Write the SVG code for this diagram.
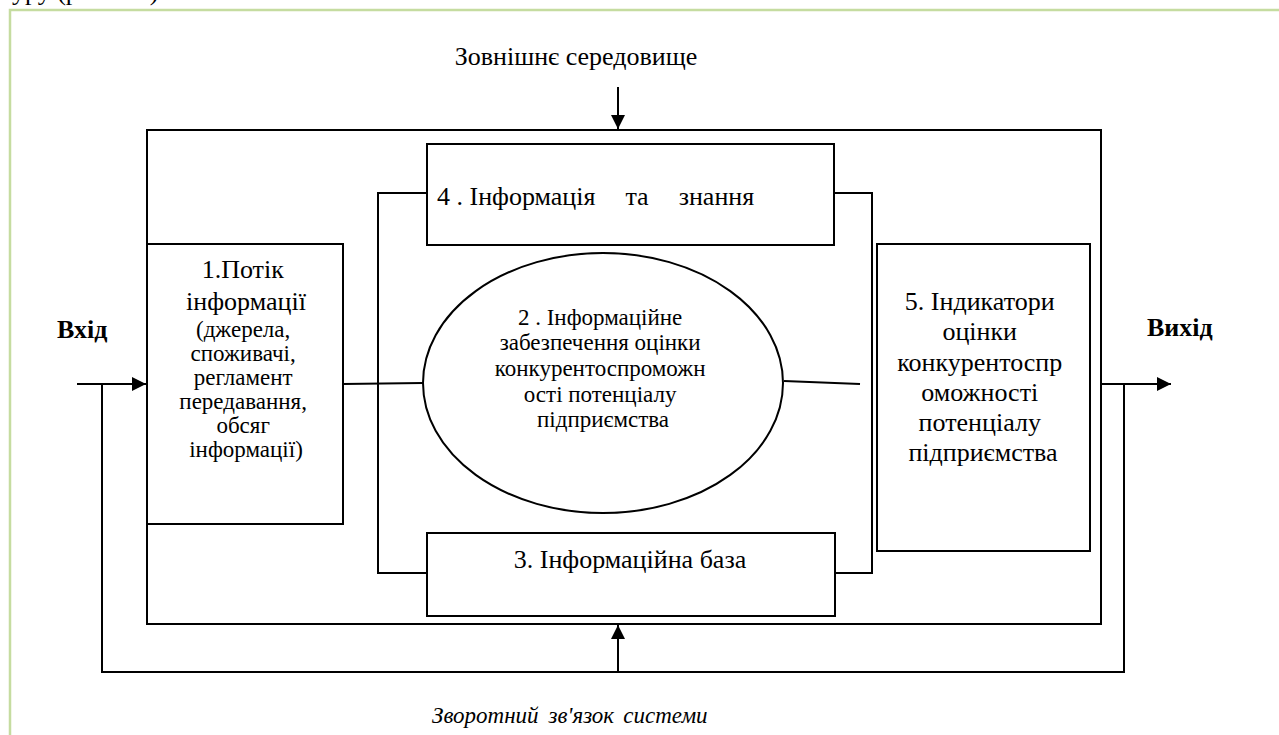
<svg xmlns="http://www.w3.org/2000/svg" width="1279" height="735" viewBox="0 0 1279 735">
  <defs>
    <marker id="ah" viewBox="0 0 10 10" refX="10" refY="5" markerWidth="16" markerHeight="14" markerUnits="userSpaceOnUse" orient="auto">
      <path d="M0,0 L10,5 L0,10 Z" fill="#000"/>
    </marker>
  </defs>
  <rect width="1279" height="735" fill="#fff"/>

  <text x="12" y="0" font-family="Times New Roman, Liberation Serif, serif" font-size="26">уру          (рис. 1.3)</text>

  <path d="M10,735 V10 H1279" fill="none" stroke="#c5dca0" stroke-width="2.5"/>

  <g id="environment">
    <text x="576" y="65" text-anchor="middle" font-family="Times New Roman, Liberation Serif, serif" font-size="26">Зовнішнє середовище</text>
  </g>

  <g id="system">
    <rect x="147" y="130" width="954" height="494" fill="none" stroke="#000" stroke-width="2"/>
  </g>

  <g id="connectors" fill="none" stroke="#000" stroke-width="2">
    <line x1="618" y1="87" x2="618" y2="129" marker-end="url(#ah)"/>
    <line x1="77" y1="384" x2="146" y2="384" marker-end="url(#ah)"/>
    <line x1="1101" y1="384" x2="1171" y2="384" marker-end="url(#ah)"/>
    <polyline points="1124,384 1124,672 102,672 102,384"/>
    <line x1="618" y1="672" x2="618" y2="625" marker-end="url(#ah)"/>
    <polyline points="427,193 378,193 378,573 427,573"/>
    <polyline points="834,193 872,193 872,573 835,573"/>
    <line x1="343" y1="384" x2="423" y2="383"/>
    <line x1="784" y1="381" x2="860" y2="384"/>
  </g>

  <g id="node1">
    <rect x="147" y="244" width="196" height="280" fill="#fff" stroke="#000" stroke-width="2"/>
    <text text-anchor="middle" font-family="Times New Roman, Liberation Serif, serif" font-size="26">
      <tspan x="246" y="278">1.Потік</tspan>
      <tspan x="246" y="310">інформації</tspan>
    </text>
    <text text-anchor="middle" font-family="Times New Roman, Liberation Serif, serif" font-size="23">
      <tspan x="246" y="337">(джерела,</tspan>
      <tspan x="246" y="361">споживачі,</tspan>
      <tspan x="246" y="385">регламент</tspan>
      <tspan x="246" y="409">передавання,</tspan>
      <tspan x="246" y="433">обсяг</tspan>
      <tspan x="246" y="457">інформації)</tspan>
    </text>
  </g>

  <g id="node4">
    <rect x="427" y="144" width="407" height="101" fill="#fff" stroke="#000" stroke-width="2"/>
    <text x="437" y="205" font-family="Times New Roman, Liberation Serif, serif" font-size="26">4 . Інформація<tspan dx="30">та</tspan><tspan dx="30">знання</tspan></text>
  </g>

  <g id="node2">
    <ellipse cx="603" cy="383" rx="180" ry="130" fill="#fff" stroke="#000" stroke-width="2"/>
    <text text-anchor="middle" font-family="Times New Roman, Liberation Serif, serif" font-size="23">
      <tspan x="603" y="325">2 . Інформаційне</tspan>
      <tspan x="603" y="350">забезпечення оцінки</tspan>
      <tspan x="603" y="376">конкурентоспроможн</tspan>
      <tspan x="603" y="402">ості потенціалу</tspan>
      <tspan x="603" y="427">підприємства</tspan>
    </text>
  </g>

  <g id="node3">
    <rect x="427" y="533" width="408" height="83" fill="#fff" stroke="#000" stroke-width="2"/>
    <text x="630" y="568" text-anchor="middle" font-family="Times New Roman, Liberation Serif, serif" font-size="26">3. Інформаційна база</text>
  </g>

  <g id="node5">
    <rect x="877" y="244" width="213" height="307" fill="#fff" stroke="#000" stroke-width="2"/>
    <text text-anchor="middle" font-family="Times New Roman, Liberation Serif, serif" font-size="26">
      <tspan x="983" y="310">5. Індикатори</tspan>
      <tspan x="983" y="340">оцінки</tspan>
      <tspan x="983" y="371">конкурентоспр</tspan>
      <tspan x="983" y="401">оможності</tspan>
      <tspan x="983" y="431">потенціалу</tspan>
      <tspan x="983" y="461">підприємства</tspan>
    </text>
  </g>

  <g id="labels">
    <text x="57" y="338" font-family="Times New Roman, Liberation Serif, serif" font-size="26" font-weight="bold">Вхід</text>
    <text x="1147" y="336" font-family="Times New Roman, Liberation Serif, serif" font-size="26" font-weight="bold">Вихід</text>
    <text x="432" y="723" font-family="Times New Roman, Liberation Serif, serif" font-size="23" font-style="italic">Зворотний<tspan dx="10">зв'язок</tspan><tspan dx="10">системи</tspan></text>
  </g>
</svg>
